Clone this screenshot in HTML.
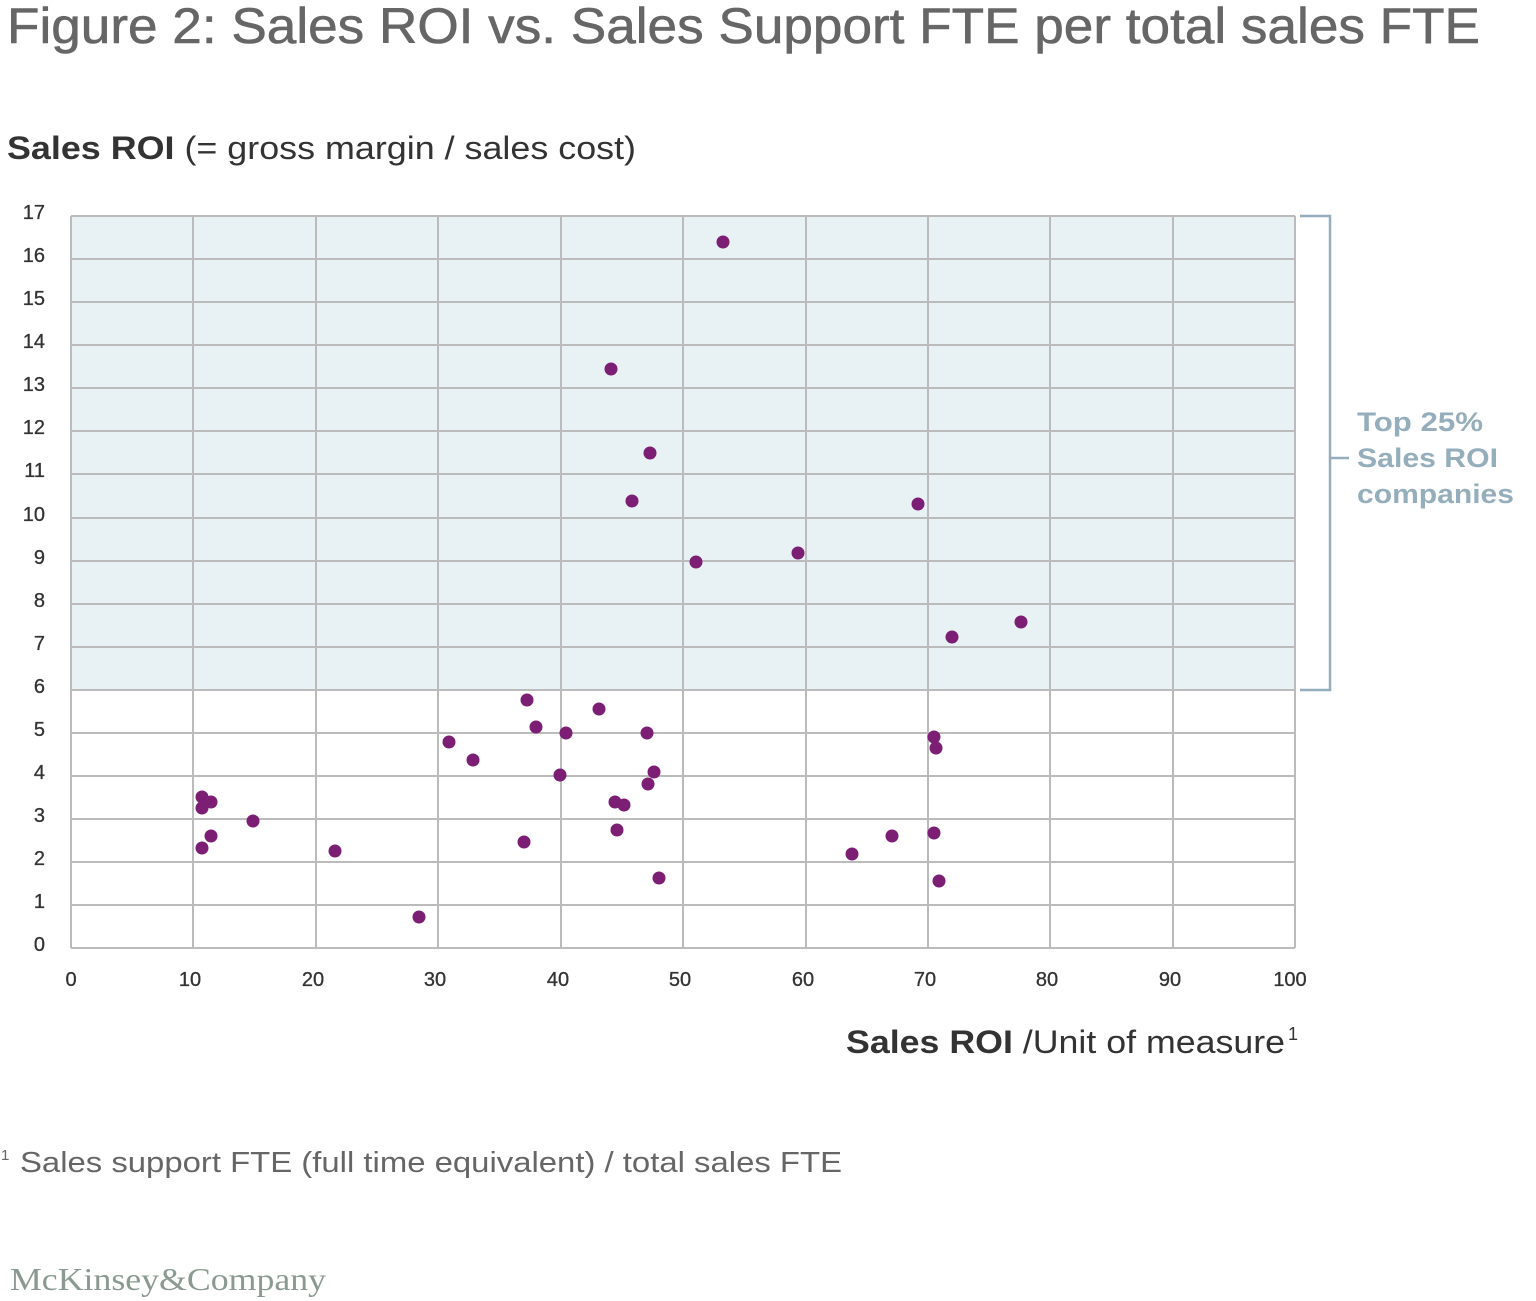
<!DOCTYPE html>
<html><head><meta charset="utf-8"><style>
html,body{margin:0;padding:0;background:#fff;}
svg{display:block;font-family:"Liberation Sans",Arial,sans-serif;}
</style></head><body>
<svg width="1536" height="1301" viewBox="0 0 1536 1301" xmlns="http://www.w3.org/2000/svg">
<text x="7" y="43" font-size="50" fill="#666" stroke="#666" stroke-width="0.6" textLength="1473" lengthAdjust="spacingAndGlyphs">Figure 2: Sales ROI vs. Sales Support FTE per total sales FTE</text>
<text x="7" y="159" font-size="32" fill="#333" textLength="629" lengthAdjust="spacingAndGlyphs"><tspan font-weight="bold">Sales ROI</tspan> (= gross margin / sales cost)</text>
<rect x="71" y="216" width="1224" height="474" fill="#e8f1f3"/>
<g stroke="#bbb" stroke-width="2" fill="none">
<path d="M71 216V948M193 216V948M316 216V948M438 216V948M561 216V948M683 216V948M806 216V948M928 216V948M1050 216V948M1173 216V948M1295 216V948"/>
<path d="M71 216H1295M71 259H1295M71 302H1295M71 345H1295M71 388H1295M71 431H1295M71 474H1295M71 518H1295M71 561H1295M71 604H1295M71 647H1295M71 690H1295M71 733H1295M71 776H1295M71 819H1295M71 862H1295M71 905H1295M71 948H1295"/>
</g>
<g font-size="20" fill="#333" stroke="#333" stroke-width="0.3" text-anchor="end">
<text x="45" y="219">17</text><text x="45" y="262">16</text><text x="45" y="305">15</text><text x="45" y="348">14</text><text x="45" y="391">13</text><text x="45" y="434">12</text><text x="45" y="477">11</text><text x="45" y="521">10</text><text x="45" y="564">9</text><text x="45" y="607">8</text><text x="45" y="650">7</text><text x="45" y="693">6</text><text x="45" y="736">5</text><text x="45" y="779">4</text><text x="45" y="822">3</text><text x="45" y="865">2</text><text x="45" y="908">1</text><text x="45" y="951">0</text>
</g>
<g font-size="20" fill="#333" stroke="#333" stroke-width="0.3" text-anchor="middle">
<text x="71" y="986">0</text><text x="190" y="986">10</text><text x="313" y="986">20</text><text x="435" y="986">30</text><text x="558" y="986">40</text><text x="680" y="986">50</text><text x="803" y="986">60</text><text x="925" y="986">70</text><text x="1047" y="986">80</text><text x="1170" y="986">90</text><text x="1290" y="986">100</text>
</g>
<g fill="#7b1e74">
<circle cx="723" cy="242" r="6.5"/><circle cx="611" cy="369" r="6.5"/><circle cx="650" cy="453" r="6.5"/><circle cx="632" cy="501" r="6.5"/><circle cx="918" cy="504" r="6.5"/><circle cx="696" cy="562" r="6.5"/><circle cx="798" cy="553" r="6.5"/><circle cx="952" cy="637" r="6.5"/><circle cx="1021" cy="622" r="6.5"/><circle cx="527" cy="700" r="6.5"/><circle cx="599" cy="709" r="6.5"/><circle cx="536" cy="727" r="6.5"/><circle cx="566" cy="733" r="6.5"/><circle cx="647" cy="733" r="6.5"/><circle cx="934" cy="737" r="6.5"/><circle cx="936" cy="748" r="6.5"/><circle cx="449" cy="742" r="6.5"/><circle cx="473" cy="760" r="6.5"/><circle cx="560" cy="775" r="6.5"/><circle cx="654" cy="772" r="6.5"/><circle cx="648" cy="784" r="6.5"/><circle cx="615" cy="802" r="6.5"/><circle cx="624" cy="805" r="6.5"/><circle cx="202" cy="797" r="6.5"/><circle cx="211" cy="802" r="6.5"/><circle cx="202" cy="808" r="6.5"/><circle cx="253" cy="821" r="6.5"/><circle cx="211" cy="836" r="6.5"/><circle cx="202" cy="848" r="6.5"/><circle cx="335" cy="851" r="6.5"/><circle cx="524" cy="842" r="6.5"/><circle cx="617" cy="830" r="6.5"/><circle cx="892" cy="836" r="6.5"/><circle cx="934" cy="833" r="6.5"/><circle cx="852" cy="854" r="6.5"/><circle cx="659" cy="878" r="6.5"/><circle cx="939" cy="881" r="6.5"/><circle cx="419" cy="917" r="6.5"/>
</g>
<path d="M1300 216H1330V690H1300M1330 458H1349" stroke="#95aebb" stroke-width="2.5" fill="none"/>
<g font-size="27" font-weight="bold" fill="#95aebb">
<text x="1357" y="431" textLength="126" lengthAdjust="spacingAndGlyphs">Top 25%</text><text x="1357" y="467" textLength="141" lengthAdjust="spacingAndGlyphs">Sales ROI</text><text x="1357" y="503" textLength="157" lengthAdjust="spacingAndGlyphs">companies</text>
</g>
<text x="846" y="1053" font-size="32" fill="#333" textLength="439" lengthAdjust="spacingAndGlyphs"><tspan font-weight="bold">Sales ROI</tspan> /Unit of measure</text>
<text x="1288" y="1040" font-size="18" fill="#333">1</text>
<text x="1" y="1160" font-size="15" fill="#666">1</text>
<text x="20" y="1172" font-size="29" fill="#666" textLength="822" lengthAdjust="spacingAndGlyphs">Sales support FTE (full time equivalent) / total sales FTE</text>
<text x="10" y="1290" font-size="32" fill="#8a9a90" font-family="Liberation Serif,serif" textLength="316" lengthAdjust="spacingAndGlyphs">McKinsey&amp;Company</text>
</svg>
</body></html>
